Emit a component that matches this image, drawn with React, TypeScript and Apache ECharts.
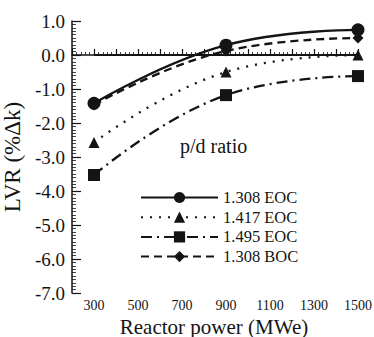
import React, { useEffect, useRef } from "react";
import * as echarts from "echarts";

const powers = [300, 900, 1500];
const eoc1308 = [-1.42, 0.29, 0.74];
const eoc1417 = [-2.57, -0.5, 0.0];
const eoc1495 = [-3.53, -1.18, -0.62];
const boc1308 = [-1.47, 0.12, 0.5];
const seriesNames = ["1.308 EOC", "1.417 EOC", "1.495 EOC", "1.308 BOC"];
const xTickValues = [300, 500, 700, 900, 1100, 1300, 1500];
const zeroLine = [[300, 0], [1500, 0]];
const xTitle = "Reactor power (MWe)";

const FONT = "'Liberation Serif', 'Times New Roman', Times, serif";
const INK = "#141414";

export default function App() {
  const ref = useRef<HTMLDivElement>(null);
  useEffect(() => {
    if (!ref.current) return;
    const chart = echarts.init(ref.current, undefined, { renderer: "svg" });
    const mk = (
      name: string,
      vals: number[],
      symbol: string,
      size: number,
      type: any
    ) => ({
      name,
      type: "line",
      smooth: 0.45,
      data: powers.map((p, i) => [p, vals[i]]),
      symbol,
      symbolSize: size,
      showSymbol: true,
      itemStyle: { color: INK, borderWidth: 0 },
      lineStyle: { color: INK, width: 2.3, type },
      z: 3,
    });
    chart.setOption({
      animation: false,
      backgroundColor: "#ffffff",
      textStyle: { fontFamily: FONT },
      grid: {
        left: 72,
        right: 16,
        top: 21,
        bottom: 44,
        containLabel: false,
        outerBoundsMode: "none",
      },
      xAxis: {
        type: "value",
        min: 200,
        max: 1500,
        interval: 100,
        axisLine: { show: true, lineStyle: { color: INK, width: 1.5 } },
        axisTick: {
          show: true,
          inside: true,
          length: 6,
          lineStyle: { color: INK, width: 1.2 },
        },
        minorTick: {
          show: true,
          splitNumber: 5,
          length: 3,
          lineStyle: { color: INK, width: 0.8 },
        },
        axisLabel: {
          customValues: xTickValues,
          fontFamily: FONT,
          fontSize: 14,
          color: INK,
          margin: 5,
          formatter: (v: number) => String(v),
        },
        splitLine: { show: false },
      },
      yAxis: {
        type: "value",
        min: -7,
        max: 1,
        interval: 1,
        name: "LVR (%Δk)",
        nameLocation: "middle",
        nameGap: 40,
        nameRotate: 90,
        nameTextStyle: { fontFamily: FONT, fontSize: 23, color: INK },
        axisLine: { show: true, lineStyle: { color: INK, width: 1.5 } },
        axisTick: {
          show: true,
          inside: true,
          length: 9,
          lineStyle: { color: INK, width: 1.2 },
        },
        minorTick: {
          show: true,
          splitNumber: 10,
          length: 4,
          lineStyle: { color: INK, width: 0.8 },
        },
        axisLabel: {
          fontFamily: FONT,
          fontSize: 19,
          color: INK,
          margin: 7,
          formatter: (v: number) => v.toFixed(1),
        },
        splitLine: { show: false },
      },
      legend: {
        data: seriesNames,
        orient: "vertical",
        left: 135,
        top: 184,
        itemWidth: 77,
        itemHeight: 14,
        itemGap: 2.7,
        textStyle: {
          fontFamily: FONT,
          fontSize: 16.5,
          color: INK,
        },
      },
      graphic: [
        {
          type: "text",
          left: 180,
          top: 136,
          style: {
            text: "p/d ratio",
            fontFamily: FONT,
            fontSize: 20,
            fill: INK,
          },
        },
        {
          type: "text",
          x: 214,
          y: 316,
          style: {
            text: xTitle,
            fontFamily: FONT,
            fontSize: 21,
            fill: INK,
            textAlign: "center",
            textVerticalAlign: "top",
          },
        },
      ],
      series: [
        {
          name: "zero",
          type: "line",
          data: zeroLine,
          symbol: "none",
          lineStyle: { color: INK, width: 2 },
          z: 2,
          silent: true,
        },
        mk(seriesNames[0], eoc1308, "circle", 13, "solid"),
        mk(seriesNames[1], eoc1417, "triangle", 11, [2, 7]),
        mk(seriesNames[2], eoc1495, "rect", 12, [11, 5, 2, 5]),
        mk(seriesNames[3], boc1308, "diamond", 11, [8, 5]),
      ],
    });
    return () => chart.dispose();
  }, []);
  return (
    <div
      ref={ref}
      style={{ position: "absolute", left: 0, top: 0, width: 374, height: 337 }}
    />
  );
}
